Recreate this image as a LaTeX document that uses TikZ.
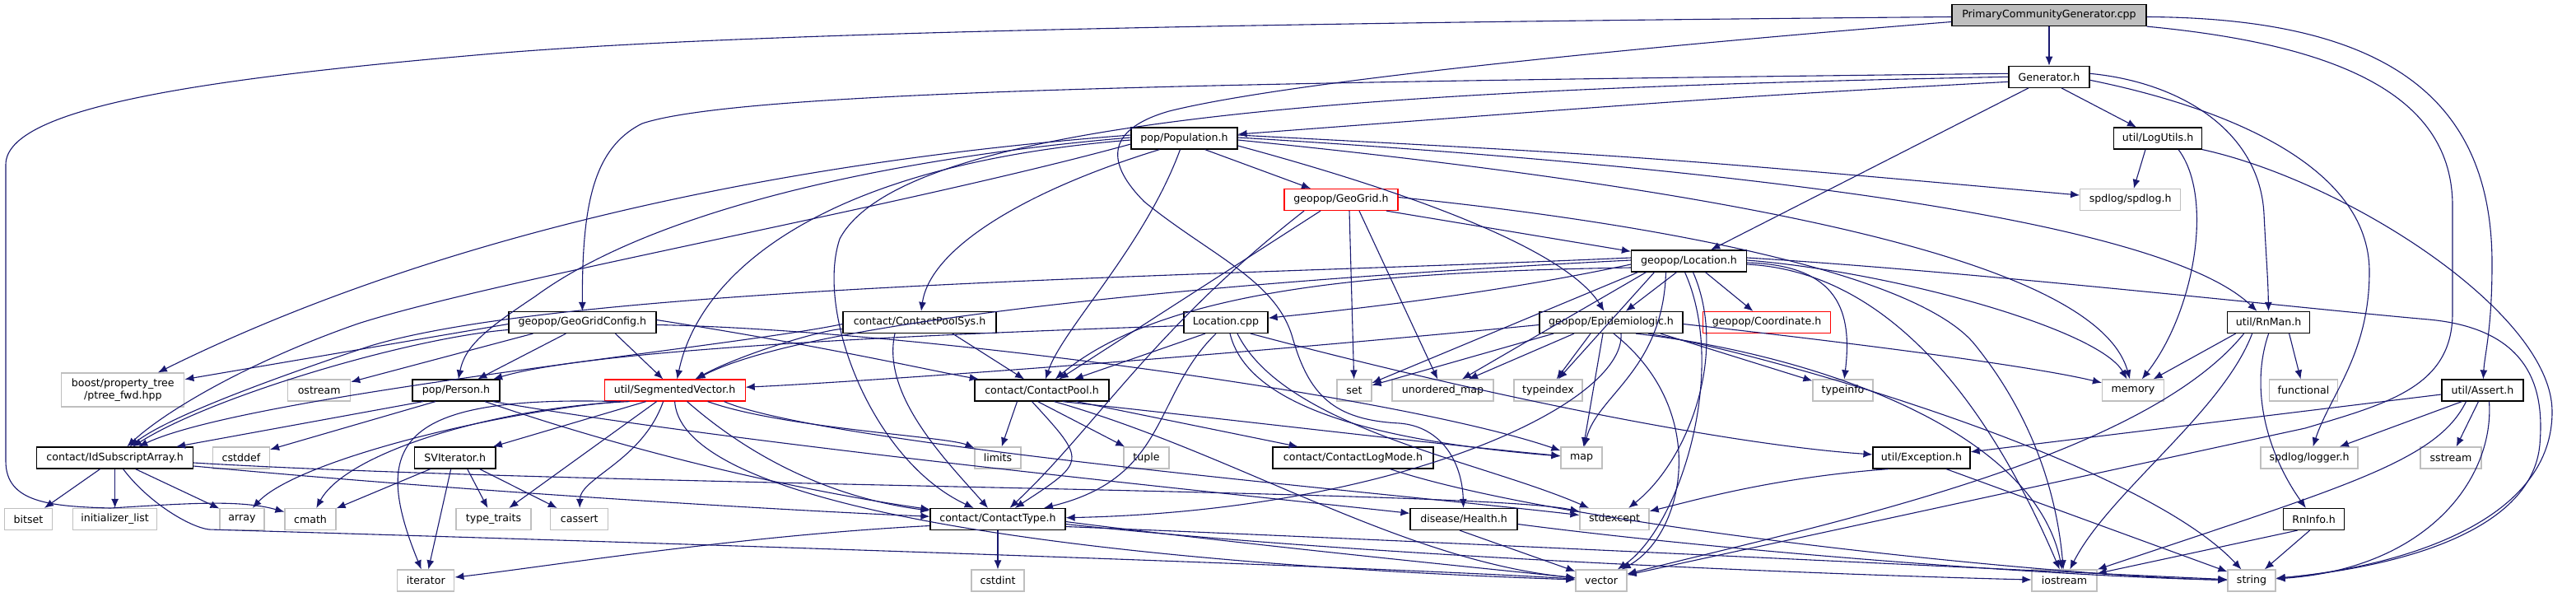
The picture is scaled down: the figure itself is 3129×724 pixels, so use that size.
\documentclass[tikz,border=0pt]{standalone}
\usepackage{fontspec}
\setmainfont{DejaVu Sans}
\usetikzlibrary{arrows.meta}
\definecolor{edgec}{HTML}{191970}
\definecolor{sysc}{HTML}{BFBFBF}
\definecolor{redc}{HTML}{FF0000}
\begin{document}
\begin{tikzpicture}[x=1pt,y=-1pt,
  box/.style={rectangle, line width=1.2pt, fill=white, minimum height=26pt, inner sep=0pt, font=\fontsize{12.6}{15}\selectfont, text=black},
  nb/.style={box, draw=black},
  ns/.style={box, draw=sysc},
  nr/.style={box, draw=redc},
  e/.style={draw=edgec, line width=1.1pt, -{Latex[length=11pt,width=9pt]}}]
\fill[white] (0,0) rectangle (3129,724);
\useasboundingbox (0,0) rectangle (3129,724);
% row 0
\node[nb, fill=sysc, minimum width=236pt] (pcg) at (2489,18.5) {PrimaryCommunityGenerator.cpp};
% row 1
\node[nb, minimum width=98pt] (gen) at (2489,93.3) {Generator.h};
% row 2
\node[nb, minimum width=129pt] (pop) at (1438.5,168) {pop/Population.h};
\node[nb, minimum width=107pt] (logu) at (2621,168) {util/LogUtils.h};
% row 3
\node[nr, minimum width=138pt] (geogrid) at (1629,242.5) {geopop/GeoGrid.h};
\node[ns, minimum width=122pt] (spdlog) at (2587.7,242.5) {spdlog/spdlog.h};
% row 4
\node[nb, minimum width=140pt] (loc) at (2051.5,317) {geopop/Location.h};
% row 5
\node[nb, minimum width=179pt] (ggc) at (707.4,391.5) {geopop/GeoGridConfig.h};
\node[nb, minimum width=186pt] (cpsys) at (1117,391.5) {contact/ContactPoolSys.h};
\node[nb, minimum width=102pt] (loccpp) at (1489,391.5) {Location.cpp};
\node[nb, minimum width=174pt] (epi) at (1957,391.5) {geopop/Epidemiologic.h};
\node[nr, minimum width=155pt] (coord) at (2146,391.5) {geopop/Coordinate.h};
\node[nb, minimum width=100pt] (rnman) at (2755.6,391.5) {util/RnMan.h};
% row 6
\node[ns, minimum width=149pt, minimum height=41pt, align=center] (boost) at (149.3,473.5) {boost/property\_tree\\/ptree\_fwd.hpp};
\node[ns, minimum width=76pt] (ostream) at (387.7,474) {ostream};
\node[nb, minimum width=106pt] (person) at (554,474) {pop/Person.h};
\node[nr, minimum width=171pt] (segvec) at (819.6,474) {util/SegmentedVector.h};
\node[nb, minimum width=163pt] (cpool) at (1265.5,474) {contact/ContactPool.h};
\node[ns, minimum width=42pt] (set) at (1645,474) {set};
\node[ns, minimum width=123pt] (umap) at (1752.5,474) {unordered\_map};
\node[ns, minimum width=83pt] (typeindex) at (1880.5,474) {typeindex};
\node[ns, minimum width=73pt] (typeinfo) at (2238.5,474) {typeinfo};
\node[ns, minimum width=75pt] (memory) at (2591,474) {memory};
\node[ns, minimum width=83pt] (functional) at (2798,474) {functional};
\node[nb, minimum width=99pt] (assert) at (3015.5,474) {util/Assert.h};
% row 7
\node[nb, minimum width=190pt] (idsub) at (139.6,556) {contact/IdSubscriptArray.h};
\node[ns, minimum width=69pt] (cstddef) at (293,556) {cstddef};
\node[nb, minimum width=98.5pt] (svit) at (552.7,556) {SVIterator.h};
\node[ns, minimum width=56pt] (limits) at (1212,556) {limits};
\node[ns, minimum width=55pt] (tuple) at (1392.5,556) {tuple};
\node[nb, minimum width=195pt] (clog) at (1643.5,556) {contact/ContactLogMode.h};
\node[ns, minimum width=50pt] (map) at (1921,556) {map};
\node[nb, minimum width=118pt] (exception) at (2334,556) {util/Exception.h};
\node[ns, minimum width=118pt] (logger) at (2805,556) {spdlog/logger.h};
\node[ns, minimum width=74pt] (sstream) at (2977,556) {sstream};
% row 8
\node[ns, minimum width=58pt] (bitset) at (34.5,630.5) {bitset};
\node[ns, minimum width=102pt] (initlist) at (139.6,630.5) {initializer\_list};
\node[ns, minimum width=54pt] (array) at (294,630.5) {array};
\node[ns, minimum width=62pt] (cmath) at (377,630.5) {cmath};
\node[ns, minimum width=91pt] (typetraits) at (599.5,630.5) {type\_traits};
\node[ns, minimum width=70pt] (cassert) at (703.8,630.5) {cassert};
\node[nb, minimum width=164pt] (ctype) at (1212,630.5) {contact/ContactType.h};
\node[nb, minimum width=130pt] (health) at (1778,630.5) {disease/Health.h};
\node[ns, minimum width=84pt] (stdexcept) at (1961,630.5) {stdexcept};
\node[nb, minimum width=74pt] (rninfo) at (2810.6,630.5) {RnInfo.h};
% row 9
\node[ns, minimum width=69pt] (iterator) at (517.3,705) {iterator};
\node[ns, minimum width=64pt] (cstdint) at (1212,705) {cstdint};
\node[ns, minimum width=62pt] (vector) at (1945,705) {vector};
\node[ns, minimum width=79pt] (iostream) at (2507.5,705) {iostream};
\node[ns, minimum width=58pt] (string) at (2735,705) {string};

% ---------- edges ----------
% PCG
\draw[e] (pcg) -- (gen);
\draw[e] ([yshift=-2pt]pcg.west) .. controls (1500,28) and (900,40) .. (600,65) .. controls (250,95) and (7,130) .. (7,200) -- (7,560) .. controls (7,610) and (60,615) .. (134,617) .. controls (220,612) and (290,606) .. (cmath);
\draw[e] ([yshift=-8pt]pcg.west) .. controls (2200,40) and (1600,90) .. (1420,135) .. controls (1340,158) and (1345,200) .. (1390,245) .. controls (1470,310) and (1550,340) .. (1570,410) .. controls (1590,480) and (1620,510) .. (1700,514) .. controls (1750,518) and (1776,560) .. (health);
\draw[e] ([yshift=-2pt]pcg.east) .. controls (2900,22) and (3027,120) .. (3027,320) .. controls (3027,400) and (3018,430) .. (assert);
\draw[e] (pcg.south east) .. controls (2850,55) and (2979,120) .. (2979,250) -- (2979,380) .. controls (2979,470) and (2900,490) .. (2800,520) -- (vector);
% Generator
\draw[e] ([yshift=-6pt]gen.west) .. controls (2100,118) .. (pop);
\draw[e] ([yshift=4pt]gen.west) .. controls (1500,100) and (900,110) .. (780,150) .. controls (720,180) and (707,250) .. (ggc);
\draw[e] ([yshift=0pt]gen.west) .. controls (1700,108) and (1100,140) .. (1020,290) .. controls (990,380) and (1060,560) .. (ctype);
\draw[e] ([xshift=-25pt]gen.south) -- (loc);
\draw[e] ([xshift=15pt]gen.south) -- (logu);
\draw[e] ([yshift=4pt]gen.east) .. controls (2650,100) and (2745,160) .. (2750,260) .. controls (2753,320) and (2755,340) .. (rnman);
\draw[e] ([yshift=-4pt]gen.east) .. controls (2700,130) and (2878,200) .. (2878,330) .. controls (2878,430) and (2830,480) .. (logger);
% Population
\draw[e] ([xshift=25pt]pop.south) -- (geogrid);
\draw[e] ([yshift=4pt]pop.east) .. controls (2000,190) .. (spdlog);
\draw[e] ([yshift=1pt]pop.east) .. controls (2300,215) and (2650,290) .. (rnman);
\draw[e] ([yshift=-2pt]pop.east) .. controls (2200,240) and (2550,330) .. (memory);
\draw[e] ([yshift=-9pt]pop.east) .. controls (1700,230) and (1900,300) .. (epi);
\draw[e] ([xshift=-5pt]pop.south) .. controls (1390,300) and (1290,400) .. (cpool);
\draw[e] ([xshift=-30pt]pop.south) .. controls (1250,230) and (1130,300) .. (cpsys);
\draw[e] ([yshift=1pt]pop.west) .. controls (1100,190) and (800,250) .. (650,360) .. controls (590,400) and (565,420) .. (person);
\draw[e] ([yshift=-2pt]pop.west) .. controls (1000,200) and (850,330) .. (segvec);
\draw[e] ([yshift=4pt]pop.west) .. controls (900,200) and (500,300) .. (boost);
\draw[e] ([yshift=-7pt]pop.west) .. controls (1100,250) and (600,340) .. (435,393) .. controls (300,440) and (200,500) .. (idsub);
% LogUtils
\draw[e] ([xshift=-15pt]logu.south) -- (spdlog);
\draw[e] ([xshift=25pt]logu.south) .. controls (2690,240) and (2665,380) .. (memory);
\draw[e] (logu.south east) .. controls (2850,220) and (3100,380) .. (3100,500) .. controls (3100,640) and (2900,690) .. (string);
% GeoGrid
\draw[e] ([xshift=55pt]geogrid.south) -- (loc);
\draw[e] ([xshift=10pt]geogrid.south) -- (set);
\draw[e] ([xshift=22pt]geogrid.south) -- (umap);
\draw[e] ([xshift=-25pt]geogrid.south) -- (cpool);
\draw[e] ([xshift=-45pt]geogrid.south) .. controls (1400,400) and (1330,520) .. (ctype);
\draw[e] ([yshift=3pt]geogrid.east) .. controls (2000,270) and (2330,330) .. (2400,420) .. controls (2480,520) and (2500,620) .. (iostream);
% Location.h
\draw[e] ([yshift=-4pt]loc.west) .. controls (1800,360) and (1600,380) .. (loccpp);
\draw[e] ([xshift=-15pt]loc.south) -- (epi);
\draw[e] ([xshift=20pt]loc.south) -- (coord);
\draw[e] ([yshift=-8pt]loc.west) .. controls (1700,330) and (1420,345) .. (cpool);
\draw[e] ([yshift=1pt]loc.west) .. controls (1600,335) and (1000,380) .. (segvec);
\draw[e] ([yshift=4pt]loc.west) .. controls (1500,335) and (700,345) .. (450,420) .. controls (300,470) and (200,510) .. (idsub);
\draw[e] ([xshift=-62pt]loc.south) -- (set);
\draw[e] ([xshift=-52pt]loc.south) -- (umap);
\draw[e] ([xshift=-42pt]loc.south) -- (typeindex);
\draw[e] ([yshift=-2pt]loc.east) .. controls (2235,322) and (2250,380) .. (typeinfo);
\draw[e] ([yshift=1pt]loc.east) .. controls (2300,330) and (2550,400) .. (memory);
\draw[e] ([xshift=-28pt]loc.south) .. controls (2020,450) and (1940,480) .. (map);
\draw[e] ([xshift=-5pt]loc.south) .. controls (2100,450) and (2040,640) .. (vector);
\draw[e] ([yshift=-4pt]loc.east) .. controls (2300,330) and (2420,500) .. (iostream);
\draw[e] ([yshift=4pt]loc.east) .. controls (2400,330) and (2800,375) .. (2950,388) .. controls (3080,400) and (3090,480) .. (3085,540) .. controls (3075,650) and (2900,690) .. (string);
\draw[e] ([xshift=5pt]loc.south) .. controls (2100,430) and (2050,560) .. (stdexcept);
% GeoGridConfig
\draw[e] ([yshift=-2pt]ggc.west) -- (boost);
\draw[e] ([xshift=-60pt]ggc.south) -- (ostream);
\draw[e] ([xshift=-20pt]ggc.south) -- (person);
\draw[e] ([xshift=40pt]ggc.south) -- (segvec);
\draw[e] ([yshift=-9pt]ggc.west) .. controls (500,410) and (260,480) .. (idsub);
\draw[e] ([yshift=3pt]ggc.east) .. controls (1000,420) and (1130,450) .. (cpool);
\draw[e] ([yshift=-3pt]ggc.east) .. controls (1100,400) and (1700,480) .. (map);
% ContactPoolSys
\draw[e] ([yshift=-8pt]cpsys.west) .. controls (1000,400) and (900,430) .. (segvec);
\draw[e] ([yshift=-2pt]cpsys.west) .. controls (900,420) and (300,480) .. (idsub);
\draw[e] ([xshift=40pt]cpsys.south) -- (cpool);
\draw[e] ([xshift=-30pt]cpsys.south) .. controls (1070,480) and (1150,560) .. (ctype);
% Location.cpp
\draw[e] ([yshift=-4pt]loccpp.west) .. controls (1000,410) and (700,430) .. (person);
\draw[e] ([xshift=-25pt]loccpp.south) -- (cpool);
\draw[e] ([xshift=-12pt]loccpp.south) .. controls (1400,480) and (1420,580) .. (ctype);
\draw[e] ([xshift=5pt]loccpp.south) .. controls (1510,470) and (1600,530) .. (map);
\draw[e] ([xshift=14pt]loccpp.south) .. controls (1560,520) and (1800,560) .. (stdexcept);
\draw[e] ([xshift=30pt]loccpp.south) .. controls (1800,480) and (2100,540) .. (exception);
% Epidemiologic
\draw[e] ([yshift=-3pt]epi.west) .. controls (1400,440) and (1000,466) .. (segvec);
\draw[e] ([xshift=-70pt]epi.south) -- (set);
\draw[e] ([xshift=-45pt]epi.south) -- (umap);
\draw[e] ([xshift=-25pt]epi.south) -- (typeindex);
\draw[e] ([xshift=60pt]epi.south) -- (typeinfo);
\draw[e] ([xshift=-10pt]epi.south) -- (map);
\draw[e] ([yshift=-2pt]epi.east) .. controls (2150,405) and (2450,440) .. (memory);
\draw[e] ([xshift=12pt]epi.south) .. controls (1975,490) and (1700,620) .. (ctype);
\draw[e] ([xshift=3pt]epi.south) .. controls (2080,500) and (2045,650) .. (vector);
\draw[e] ([xshift=30pt]epi.south) .. controls (2200,430) and (2470,520) .. (iostream);
\draw[e] ([xshift=45pt]epi.south) .. controls (2150,430) and (2600,560) .. (string);
% RnMan
\draw[e] ([xshift=-40pt]rnman.south) -- (memory);
\draw[e] ([xshift=25pt]rnman.south) -- (functional);
\draw[e] ([xshift=0pt]rnman.south) .. controls (2730,480) and (2760,560) .. (rninfo);
\draw[e] ([xshift=-20pt]rnman.south) .. controls (2700,500) and (2560,600) .. (iostream);
\draw[e] ([xshift=-30pt]rnman.south) .. controls (2600,560) and (2200,640) .. (vector);
% Person
\draw[e] ([xshift=-40pt]person.south) -- (idsub);
\draw[e] ([xshift=-25pt]person.south) -- (cstddef);
\draw[e] ([xshift=35pt]person.south) .. controls (800,560) and (1000,600) .. (ctype);
\draw[e] ([xshift=45pt]person.south) .. controls (900,540) and (1500,600) .. (health);
% SegmentedVector
\draw[e] ([xshift=-35pt]segvec.south) -- (svit);
\draw[e] ([xshift=-65pt]segvec.south) .. controls (600,500) and (360,560) .. (array);
\draw[e] ([xshift=-55pt]segvec.south) .. controls (600,495) and (420,550) .. (cmath);
\draw[e] ([xshift=-70pt]segvec.south) .. controls (480,480) and (450,540) .. (iterator);
\draw[e] ([xshift=-22pt]segvec.south) -- (typetraits);
\draw[e] ([xshift=-14pt]segvec.south) .. controls (780,560) and (705,580) .. (cassert);
\draw[e] ([xshift=40pt]segvec.south) .. controls (950,520) and (1150,530) .. (limits);
\draw[e] ([xshift=15pt]segvec.south) .. controls (940,580) and (1050,610) .. (ctype);
\draw[e] ([xshift=60pt]segvec.south) .. controls (1000,540) and (1700,600) .. (stdexcept);
\draw[e] ([xshift=0pt]segvec.south) .. controls (830,640) and (1500,690) .. (vector);
% ContactPool
\draw[e] ([xshift=-30pt]cpool.south) -- (limits);
\draw[e] ([xshift=-5pt]cpool.south) -- (tuple);
\draw[e] ([xshift=42pt]cpool.south) -- (clog);
\draw[e] ([xshift=25pt]cpool.south) .. controls (1500,510) and (1750,540) .. (map);
\draw[e] ([xshift=-12pt]cpool.south) .. controls (1320,560) .. (ctype);
\draw[e] ([xshift=15pt]cpool.south) .. controls (1500,550) and (1700,680) .. (vector);
% Assert
\draw[e] ([yshift=-5pt]assert.west) -- (exception);
\draw[e] ([xshift=-25pt]assert.south) -- (logger);
\draw[e] ([xshift=-5pt]assert.south) -- (sstream);
\draw[e] ([xshift=-20pt]assert.south) .. controls (2960,560) and (2850,590) .. (iostream);
\draw[e] ([xshift=8pt]assert.south) .. controls (3030,580) and (2950,690) .. (string);
% IdSubscriptArray
\draw[e] ([xshift=-18pt]idsub.south) -- (bitset);
\draw[e] ([xshift=0pt]idsub.south) -- (initlist);
\draw[e] ([xshift=25pt]idsub.south) -- (array);
\draw[e] ([yshift=-10pt]idsub.east) .. controls (600,600) and (1000,622) .. (ctype);
\draw[e] ([yshift=-6pt]idsub.east) .. controls (700,590) and (1800,595) .. (stdexcept);
\draw[e] ([xshift=10pt]idsub.south) .. controls (180,610) and (230,640) .. (254,643) .. controls (1000,665) and (1700,690) .. (vector);
% SVIterator
\draw[e] ([xshift=-30pt]svit.south) -- (cmath);
\draw[e] ([xshift=15pt]svit.south) -- (typetraits);
\draw[e] ([xshift=30pt]svit.south) -- (cassert);
\draw[e] ([xshift=-5pt]svit.south) -- (iterator);
% ContactLogMode
\draw[e] ([xshift=45pt]clog.south) .. controls (1900,640) and (2500,700) .. (string);
% Exception
\draw[e] ([xshift=-40pt]exception.south) .. controls (2150,580) and (2050,610) .. (stdexcept);
\draw[e] ([xshift=30pt]exception.south) -- (string);
% ContactType
\draw[e] (ctype) -- (cstdint);
\draw[e] ([yshift=-8pt]ctype.west) .. controls (900,650) and (650,690) .. (iterator);
\draw[e] ([yshift=-3pt]ctype.east) .. controls (1500,660) and (1800,690) .. (vector);
\draw[e] ([yshift=-6pt]ctype.east) .. controls (1700,680) and (2300,700) .. (iostream);
\draw[e] ([yshift=-9pt]ctype.east) .. controls (1800,660) and (2400,690) .. (string);
% Health
\draw[e] ([xshift=-5pt]health.south) -- (vector);
\draw[e] ([yshift=-6pt]health.east) .. controls (2100,670) and (2500,700) .. (string);
% RnInfo
\draw[e] ([xshift=-20pt]rninfo.south) -- (iostream);
\draw[e] ([xshift=-5pt]rninfo.south) -- (string);
\end{tikzpicture}
\end{document}
